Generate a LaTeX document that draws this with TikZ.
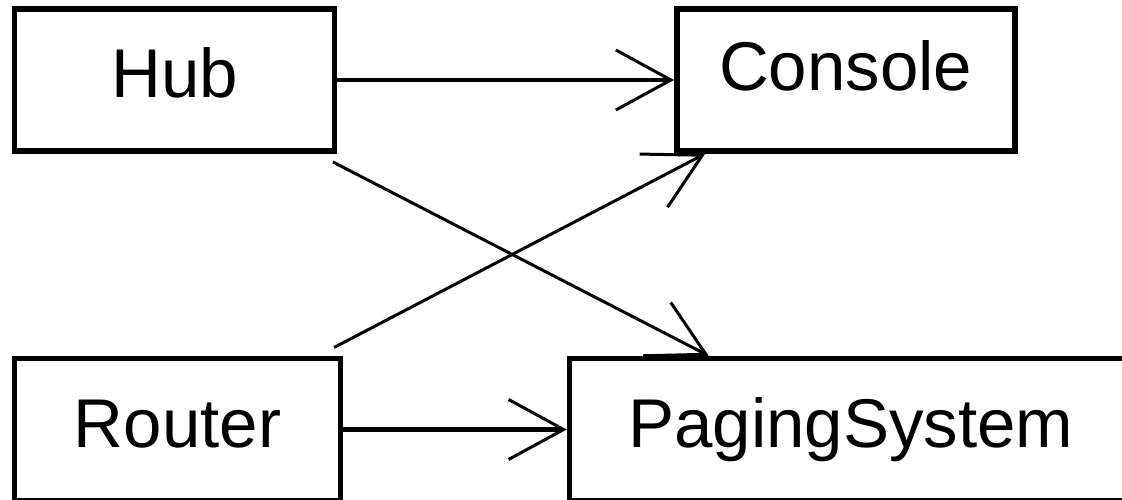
\documentclass[tikz,border=0pt]{standalone}
\usepackage{fontspec}
\newfontfamily\umlfont{Liberation Sans}
\usetikzlibrary{arrows.meta,positioning}

\begin{document}
\begin{tikzpicture}[
    x=1pt, y=-1pt,
    cls/.style={rectangle, draw, line width=5.5pt, minimum height=142pt, inner sep=0pt, font=\umlfont\fontsize{69pt}{80pt}\selectfont, text height=50pt, text depth=14pt},
    link/.style={-{Straight Barb[length=55pt, width=60pt, line width=3pt]}, line width=4.3pt},
    cross/.style={link, line width=3pt, shorten <=18pt}
]
    \useasboundingbox (0,0) rectangle (1122,500);

    % Classes
    \node[cls, minimum width=320pt] (hub) at (174.5,80) {Hub};
    \node[cls, minimum width=338pt, text depth=28pt, right=336.75pt of hub] (console) {Console};
    \node[cls, minimum width=326pt, below=202pt of hub.south west, anchor=north west] (router) {Router};
    \node[cls, minimum width=563pt, right=223.5pt of router] (paging) {PagingSystem};

    % Associations
    \draw[link] (hub) -- (console);
    \draw[link] (router) -- (paging);
    \draw[cross] (hub) -- (paging);
    \draw[cross] (router) -- (console);
\end{tikzpicture}
\end{document}
